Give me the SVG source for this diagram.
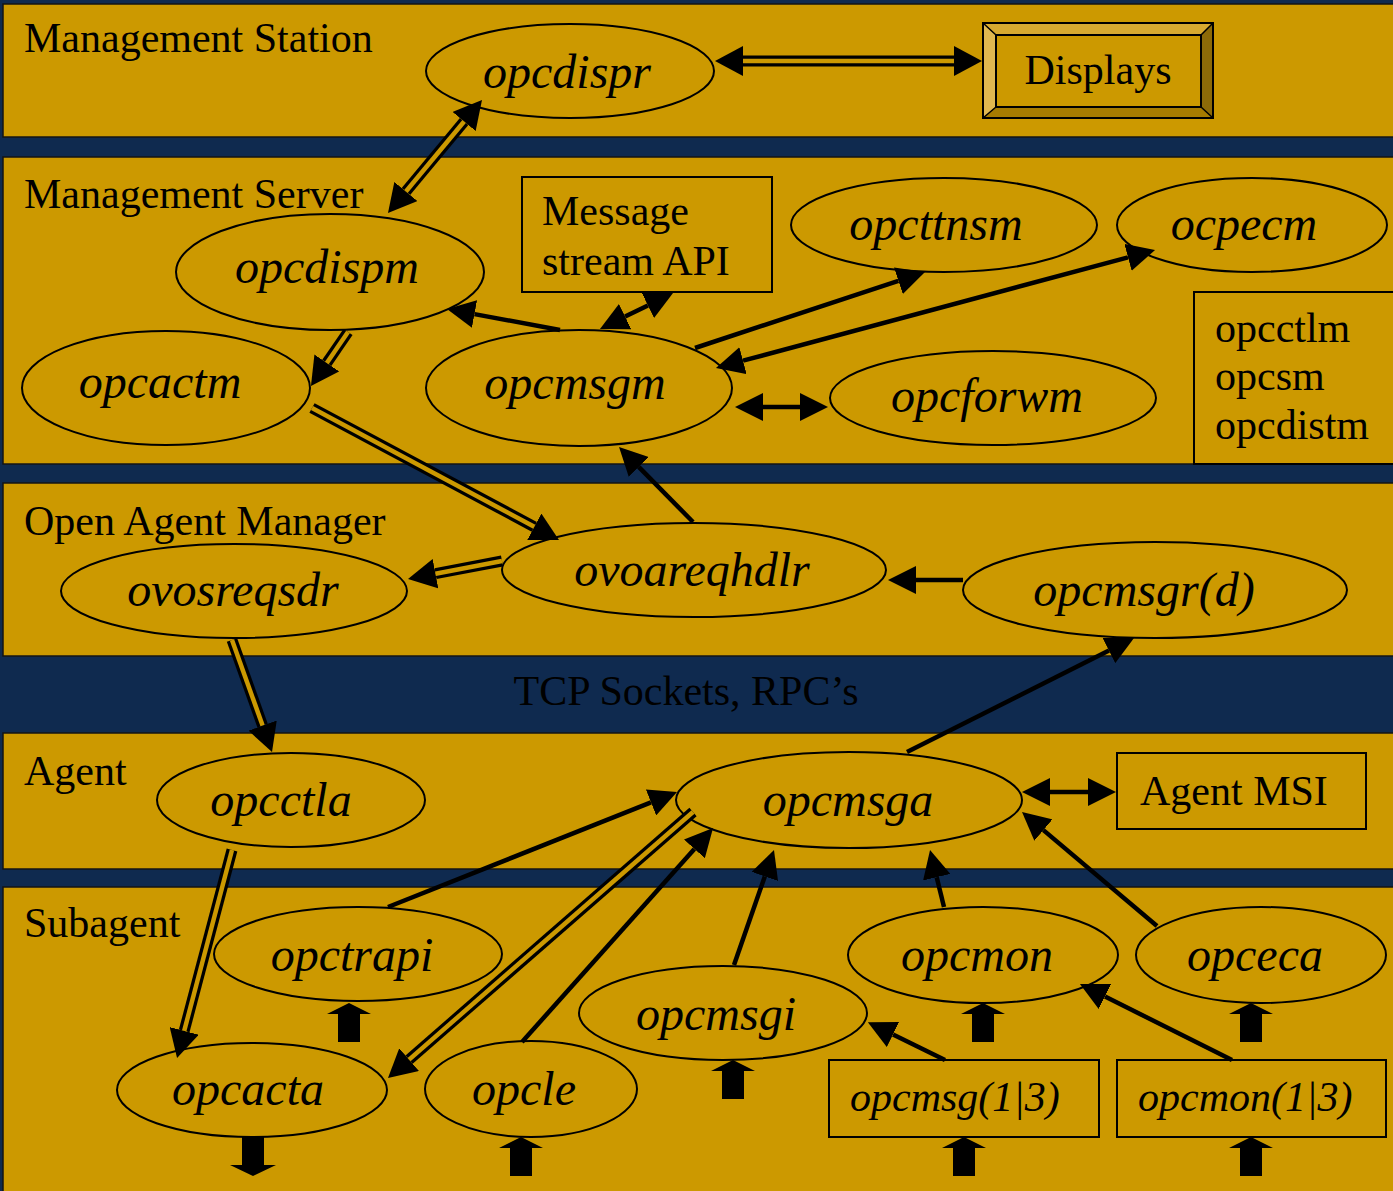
<svg xmlns="http://www.w3.org/2000/svg" width="1393" height="1191" viewBox="0 0 1393 1191">
  <style>
    .band { fill:#cc9900; stroke:#141414; stroke-width:1.5; }
    .shape { fill:#cc9900; stroke:#000; stroke-width:2; }
    .lbl { font-family:"Liberation Serif","Times New Roman",serif; font-size:42px; fill:#000; }
    .it { font-family:"Liberation Serif","Times New Roman",serif; font-style:italic; font-size:48px; fill:#000; text-anchor:middle; }
    .its { font-family:"Liberation Serif","Times New Roman",serif; font-style:italic; font-size:42px; fill:#000; }
    .single { stroke:#000; stroke-width:4.5; fill:none; }
    .dblo { stroke:#000; stroke-width:11; fill:none; }
    .dbli { stroke:#cc9900; stroke-width:4.5; fill:none; }
    .block { fill:#000; }
  </style>
  <defs>
    <marker id="ah" markerUnits="userSpaceOnUse" markerWidth="28" markerHeight="28" viewBox="0 0 28 28" refX="0" refY="14" orient="auto-start-reverse">
      <path d="M0,0 L28,14 L0,28 Z" fill="#000"/>
    </marker>
    <marker id="ahd" markerUnits="userSpaceOnUse" markerWidth="28" markerHeight="30" viewBox="0 0 28 30" refX="0" refY="15" orient="auto-start-reverse">
      <path d="M0,0 L28,15 L0,30 Z" fill="#000"/>
    </marker>
    <path id="up" d="M0,0 L22,11 L11,11 L11,39 L-11,39 L-11,11 L-22,11 Z"/>
    <path id="down" d="M-11,0 L11,0 L11,28 L23,28 L0,39 L-23,28 L-11,28 Z"/>
  </defs>

  <!-- backdrop -->
  <rect x="0" y="0" width="1393" height="1191" fill="#0f2a4f"/>

  <!-- horizontal layers -->
  <g id="layers">
    <rect class="band" x="3" y="4" width="1400" height="133"/>
    <rect class="band" x="3" y="157" width="1400" height="307"/>
    <rect class="band" x="3" y="483" width="1400" height="173"/>
    <rect class="band" x="3" y="733" width="1400" height="136"/>
    <rect class="band" x="3" y="887" width="1400" height="310"/>
    <text class="lbl" x="24" y="52">Management Station</text>
    <text class="lbl" x="24" y="208">Management Server</text>
    <text class="lbl" x="24" y="535">Open Agent Manager</text>
    <text class="lbl" x="686" y="705" text-anchor="middle">TCP Sockets, RPC’s</text>
    <text class="lbl" x="24" y="785">Agent</text>
    <text class="lbl" x="24" y="937">Subagent</text>
  </g>

  <!-- Management Station -->
  <g id="opcdispr">
    <ellipse class="shape" cx="570" cy="71" rx="144" ry="47"/>
    <text class="it" x="567" y="88">opcdispr</text>
  </g>
  <g id="displays">
    <rect x="983" y="23" width="230" height="95" fill="#cc9900"/>
    <polygon points="983,23 1213,23 1201,35 996,35" fill="#d8aa30"/>
    <polygon points="983,23 996,35 996,107 983,118" fill="#e0b850"/>
    <polygon points="983,118 996,107 1201,107 1213,118" fill="#a67b00"/>
    <polygon points="1213,23 1213,118 1201,107 1201,35" fill="#8c6a08"/>
    <rect x="983" y="23" width="230" height="95" fill="none" stroke="#000" stroke-width="2"/>
    <rect x="996" y="35" width="205" height="72" fill="none" stroke="#000" stroke-width="2"/>
    <path d="M983,23 L996,35 M1213,23 L1201,35 M983,118 L996,107 M1213,118 L1201,107" stroke="#000" stroke-width="1.5"/>
    <text class="lbl" x="1098" y="84" text-anchor="middle">Displays</text>
  </g>

  <!-- Management Server -->
  <g id="opcdispm">
    <ellipse class="shape" cx="330" cy="272" rx="154" ry="58"/>
    <text class="it" x="327" y="283">opcdispm</text>
  </g>
  <g id="msg-stream-api">
    <rect class="shape" x="522" y="177" width="250" height="115"/>
    <text class="lbl" x="542" y="225">Message</text>
    <text class="lbl" x="542" y="275">stream API</text>
  </g>
  <g id="opcttnsm">
    <ellipse class="shape" cx="944" cy="225" rx="153" ry="47"/>
    <text class="it" x="936" y="240">opcttnsm</text>
  </g>
  <g id="ocpecm">
    <ellipse class="shape" cx="1252" cy="225" rx="135" ry="47"/>
    <text class="it" x="1244" y="240">ocpecm</text>
  </g>
  <g id="server-misc">
    <rect class="shape" x="1194" y="292" width="220" height="172"/>
    <text class="lbl" x="1215" y="342">opcctlm</text>
    <text class="lbl" x="1215" y="390">opcsm</text>
    <text class="lbl" x="1215" y="439">opcdistm</text>
  </g>
  <g id="opcactm">
    <ellipse class="shape" cx="166" cy="388" rx="144" ry="57"/>
    <text class="it" x="160" y="398">opcactm</text>
  </g>
  <g id="opcmsgm">
    <ellipse class="shape" cx="579" cy="388" rx="153" ry="58"/>
    <text class="it" x="575" y="399">opcmsgm</text>
  </g>
  <g id="opcforwm">
    <ellipse class="shape" cx="993" cy="398" rx="163" ry="47"/>
    <text class="it" x="987" y="412">opcforwm</text>
  </g>

  <!-- Open Agent Manager -->
  <g id="ovoareqhdlr">
    <ellipse class="shape" cx="694" cy="570" rx="192" ry="47"/>
    <text class="it" x="692" y="586">ovoareqhdlr</text>
  </g>
  <g id="ovosreqsdr">
    <ellipse class="shape" cx="234" cy="591" rx="173" ry="47"/>
    <text class="it" x="233" y="606">ovosreqsdr</text>
  </g>
  <g id="opcmsgr-d">
    <ellipse class="shape" cx="1155" cy="590" rx="192" ry="48"/>
    <text class="it" x="1144" y="606">opcmsgr(d)</text>
  </g>

  <!-- Agent -->
  <g id="opcctla">
    <ellipse class="shape" cx="291" cy="800" rx="134" ry="47"/>
    <text class="it" x="281" y="816">opcctla</text>
  </g>
  <g id="opcmsga">
    <ellipse class="shape" cx="849" cy="800" rx="173" ry="48"/>
    <text class="it" x="848" y="816">opcmsga</text>
  </g>
  <g id="agent-msi">
    <rect class="shape" x="1117" y="753" width="249" height="76"/>
    <text class="lbl" x="1140" y="805">Agent MSI</text>
  </g>

  <!-- Subagent -->
  <g id="opctrapi">
    <ellipse class="shape" cx="358" cy="954" rx="144" ry="47"/>
    <text class="it" x="352" y="971">opctrapi</text>
  </g>
  <g id="opcmon">
    <ellipse class="shape" cx="983" cy="955" rx="135" ry="48"/>
    <text class="it" x="977" y="971">opcmon</text>
  </g>
  <g id="opceca">
    <ellipse class="shape" cx="1261" cy="955" rx="125" ry="48"/>
    <text class="it" x="1255" y="971">opceca</text>
  </g>
  <g id="opcmsgi">
    <ellipse class="shape" cx="723" cy="1013" rx="144" ry="47"/>
    <text class="it" x="716" y="1030">opcmsgi</text>
  </g>
  <g id="opcacta">
    <ellipse class="shape" cx="252" cy="1090" rx="135" ry="47"/>
    <text class="it" x="248" y="1105">opcacta</text>
  </g>
  <g id="opcle">
    <ellipse class="shape" cx="531" cy="1089" rx="106" ry="48"/>
    <text class="it" x="524" y="1105">opcle</text>
  </g>
  <g id="opcmsg13">
    <rect class="shape" x="829" y="1060" width="270" height="77"/>
    <text class="its" x="850" y="1111">opcmsg(1|3)</text>
  </g>
  <g id="opcmon13">
    <rect class="shape" x="1117" y="1060" width="269" height="77"/>
    <text class="its" x="1138" y="1111">opcmon(1|3)</text>
  </g>

  <!-- connectors -->
  <g id="connectors">
    <!-- double-line links -->
    <g id="double-links">
      <path class="dblo" d="M743,61 L954,61" marker-start="url(#ahd)" marker-end="url(#ahd)"/>
      <path class="dbli" d="M743,61 L954,61"/>
      <path class="dblo" d="M464.1,121.5 L405.9,191.5" marker-start="url(#ahd)" marker-end="url(#ahd)"/>
      <path class="dbli" d="M464.1,121.5 L405.9,191.5"/>
      <path class="dblo" d="M348,332 L326.8,362.9" marker-end="url(#ahd)"/>
      <path class="dbli" d="M348,332 L326.8,362.9"/>
      <path class="dblo" d="M312,408 L534.3,526.8" marker-end="url(#ahd)"/>
      <path class="dbli" d="M312,408 L534.3,526.8"/>
      <path class="dblo" d="M502,561 L435.5,573.7" marker-end="url(#ahd)"/>
      <path class="dbli" d="M502,561 L435.5,573.7"/>
      <path class="dblo" d="M232,640 L262.6,725.6" marker-end="url(#ahd)"/>
      <path class="dbli" d="M232,640 L262.6,725.6"/>
      <path class="dblo" d="M232,850 L184.2,1030.9" marker-end="url(#ahd)"/>
      <path class="dbli" d="M232,850 L184.2,1030.9"/>
      <path class="dblo" d="M693,812 L409.1,1059.6" marker-end="url(#ahd)"/>
      <path class="dbli" d="M693,812 L409.1,1059.6"/>
    </g>
    <!-- single-line links -->
    <g id="single-links">
      <path class="single" d="M560,330 L474.5,314.1" marker-end="url(#ah)"/>
      <path class="single" d="M625.1,316.6 L647.9,305.4" marker-start="url(#ah)" marker-end="url(#ah)"/>
      <path class="single" d="M695,348 L898.4,280.8" marker-end="url(#ah)"/>
      <path class="single" d="M743,360.7 L1128,257.3" marker-start="url(#ah)" marker-end="url(#ah)"/>
      <path class="single" d="M763,407 L800,407" marker-start="url(#ah)" marker-end="url(#ah)"/>
      <path class="single" d="M693,522 L638.7,466.9" marker-end="url(#ah)"/>
      <path class="single" d="M963,580 L916,580" marker-end="url(#ah)"/>
      <path class="single" d="M907,752 L1109,650.6" marker-end="url(#ah)"/>
      <path class="single" d="M1050,792 L1088,792" marker-start="url(#ah)" marker-end="url(#ah)"/>
      <path class="single" d="M388,907 L651,802.4" marker-end="url(#ah)"/>
      <path class="single" d="M522,1042 L694.4,848.9" marker-end="url(#ah)"/>
      <path class="single" d="M734,965 L764.8,876.4" marker-end="url(#ah)"/>
      <path class="single" d="M944,907 L936.7,877.2" marker-end="url(#ah)"/>
      <path class="single" d="M1157,926 L1043.4,830.1" marker-end="url(#ah)"/>
      <path class="single" d="M945,1060 L893,1034.5" marker-end="url(#ah)"/>
      <path class="single" d="M1232,1060 L1105,996.5" marker-end="url(#ah)"/>
    </g>
    <!-- external input/output block arrows -->
    <g id="io-arrows" class="block">
      <use href="#up" x="349" y="1003"/>
      <use href="#down" x="253" y="1137"/>
      <use href="#up" x="521" y="1137"/>
      <use href="#up" x="733" y="1060"/>
      <use href="#up" x="983" y="1003"/>
      <use href="#up" x="1251" y="1003"/>
      <use href="#up" x="964" y="1137"/>
      <use href="#up" x="1251" y="1137"/>
    </g>
  </g>
</svg>
